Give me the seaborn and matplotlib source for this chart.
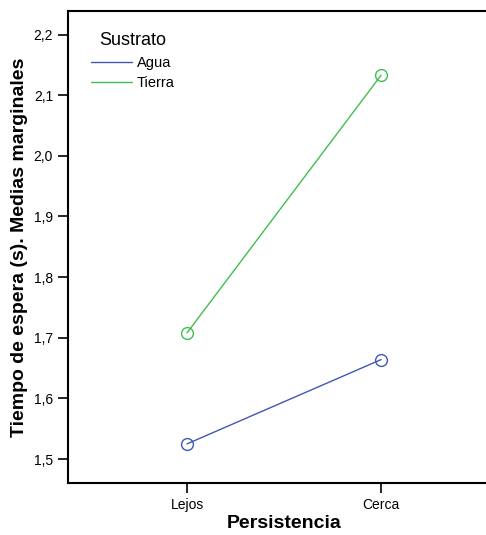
import seaborn as sns
import matplotlib.pyplot as plt
import pandas as pd
from matplotlib.lines import Line2D

# values
persistencia = ["Lejos", "Cerca"]
sustrato = ["Agua", "Tierra"]
agua = [1.525, 1.664]
tierra = [1.708, 2.133]
colores = {"Agua": "#4157b3", "Tierra": "#3fbf4d"}
yticks = [1.5, 1.6, 1.7, 1.8, 1.9, 2.0, 2.1, 2.2]

df = pd.DataFrame({
    "Persistencia": persistencia * 2,
    "Sustrato": ["Agua"] * 2 + ["Tierra"] * 2,
    "Tiempo": agua + tierra,
})

sns.set_style("ticks")
plt.rcParams["font.family"] = ["Liberation Sans", "DejaVu Sans"]
plt.rcParams["text.color"] = "black"
plt.rcParams["axes.labelcolor"] = "black"

fig = plt.figure(figsize=(4.86, 5.35), dpi=100)
ax = fig.add_axes([0.140, 0.0972, 0.889, 0.882])

sns.pointplot(data=df, x="Persistencia", y="Tiempo", hue="Sustrato",
              order=persistencia, hue_order=sustrato, palette=colores,
              markers="o", errorbar=None, linewidth=1, markersize=8.5,
              ax=ax)

# open circles like the SPSS plot
for line in ax.lines:
    line.set_markerfacecolor("none")
    line.set_markeredgewidth(1.0)

ax.set_xlim(-0.613, 1.613)
ax.set_ylim(1.4605, 2.2386)
ax.set_yticks(yticks)
ax.set_yticklabels([f"{v:.1f}".replace(".", ",") for v in yticks])

for s in ax.spines.values():
    s.set_linewidth(1.5)
    s.set_color("black")
ax.spines["right"].set_visible(False)
ax.tick_params(axis="both", direction="out", length=7.2, width=1.2,
               labelsize=10, pad=3.6, colors="black")

ax.set_xlabel("Persistencia", fontsize=14, fontweight="bold", labelpad=2.5)
ax.set_ylabel("Tiempo de espera (s). Medias marginales", fontsize=14,
              fontweight="bold", labelpad=4)

# legend: lines only, no frame
handles = [Line2D([0], [0], color=colores[s], lw=1) for s in sustrato]
leg = ax.legend(handles, sustrato, title="Sustrato", loc="upper left",
                bbox_to_anchor=(0.053, 0.955), frameon=False, fontsize=10.5,
                title_fontsize=13, handlelength=2.8, handletextpad=0.35,
                labelspacing=0.45, borderpad=0, borderaxespad=0,
                alignment="center")

fig.savefig("out.png", dpi=100)
